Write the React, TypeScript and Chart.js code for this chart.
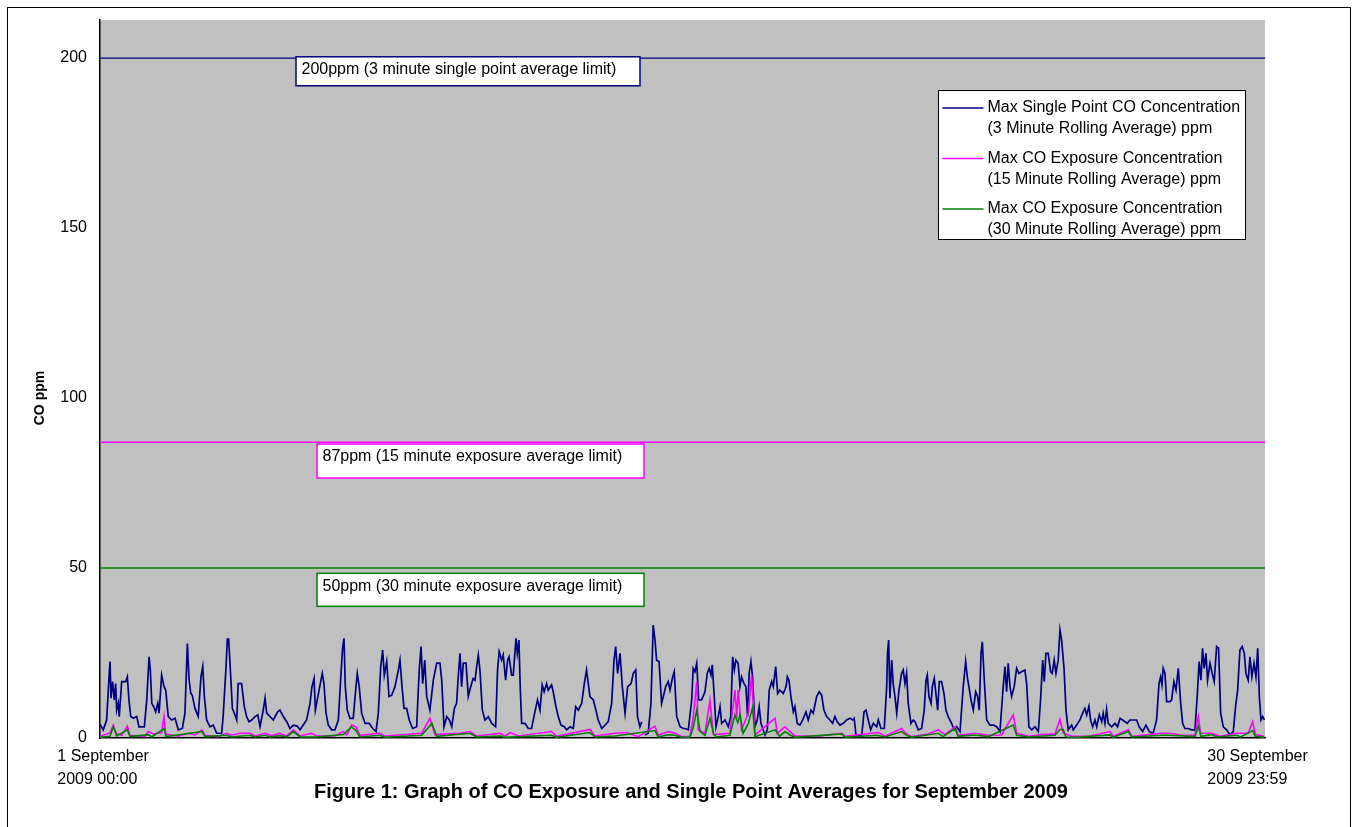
import React, { useEffect, useRef } from "react";
import { Chart, registerables } from "chart.js";

Chart.register(...registerables);

const FONT = '"Liberation Sans", Arial, Helvetica, sans-serif';

// ---------- data ----------
const seriesLegend: string[][] = [
  ["Max Single Point CO Concentration", "(3 Minute Rolling Average) ppm"],
  ["Max CO Exposure Concentration", "(15 Minute Rolling Average) ppm"],
  ["Max CO Exposure Concentration", "(30 Minute Rolling Average) ppm"],
];
const seriesColors = ["#000080", "#FF00FF", "#008000"];

const limitPpm = [200, 87, 50];
const limitLabels = [
  "200ppm (3 minute single point average limit)",
  "87ppm (15 minute exposure average limit)",
  "50ppm (30 minute exposure average limit)",
];
const yTicks = [0, 50, 100, 150, 200];
const periodHours = [0, 720];
const xStartLabel = ["1 September", "2009 00:00"];
const xEndLabel = ["30 September", "2009 23:59"];
const yTitle = "CO ppm";
const figureTitle = "Figure 1: Graph of CO Exposure and Single Point Averages for September 2009";

// [hour since 1 Sep 00:00, ppm]
const singlePoint: [number, number | null][] = [
  [0,4.1],[2.0,2.4],[4.1,5.3],[5.6,18],[6.2,22.5],[6.8,11.7],[7.8,16.6],[8.8,11.2],[9.7,16],[10.3,8.2],[11.3,10.2],[11.9,6.3],[13.4,16.6],[15.9,16.6],[16.9,18],[17.9,11.2],[19.0,6.3],[20.6,5.8],[22.7,6.3],[24.1,3.3],[27.4,3.3],[28.9,11.2],[30.3,23.9],[31.1,20],[32.0,10.2],[33.2,9.2],[34.4,7.7],[35.7,10.2],[36.5,7.3],[38.1,18.5],[39.6,15.1],[40.6,14.1],[42.2,6.3],[44.3,5.3],[46.4,5.8],[48.4,2.4],[50.9,2.8],[52.5,7.3],[54.0,27.8],[55.0,17.5],[56.1,13.1],[57.0,12.6],[58.7,8.7],[60.7,6.3],[62.4,18],[63.5,21],[64.5,12.2],[65.9,5.3],[68.0,3.3],[70.0,3.8],[72.1,1.4],[75.2,1.4],[76.1,6.3],[77.9,21],[78.7,29.1],[79.5,29.1],[80.8,18],[81.8,8.7],[83.0,7.3],[84.5,5.3],[85.4,16],[87.5,16],[89.2,9.2],[90.6,6.3],[92.1,4.8],[93.8,5.3],[95.8,6.3],[97.5,6.8],[98.9,3.3],[100.9,8.2],[102.0,11.7],[103.0,7.3],[105.1,6.3],[107.1,5.3],[109.8,7.7],[111.2,8.2],[113.3,6.3],[115.4,4.8],[117.4,2.8],[119.5,3.8],[121.9,3.5],[123.6,2.4],[125.6,3.8],[127.7,5.3],[129.8,10.2],[131.0,15.1],[132.3,17.5],[133.1,8.2],[134.3,11.2],[136.0,15.6],[137.4,19],[138.4,16],[139.7,7.3],[141.1,3.8],[143.2,2.4],[145.2,2.4],[147.3,5.3],[148.7,17],[149.9,26.4],[150.8,29.3],[151.6,15.1],[152.8,8.2],[154.5,5.8],[156.5,5.8],[158.2,15.1],[159.0,19],[160.2,15.1],[161.7,7.3],[163.8,4.3],[166.4,4.3],[168.5,2.8],[170.6,1.9],[172.0,7.3],[173.5,21],[174.7,25.9],[175.7,18.5],[177.2,22.5],[178.6,12.2],[180.3,12.6],[182.3,15.1],[184.4,20],[185.4,22.9],[186.5,16],[187.9,8.7],[189.5,8.7],[191.1,5.3],[193.2,2.8],[195.7,3.3],[197.3,20],[198.4,26.9],[199.4,16],[200.7,22.9],[201.9,12.2],[203.9,8.2],[206.0,17],[208.1,22],[210.1,22],[211.2,17],[212.6,3.3],[214.3,6.3],[215.9,5.3],[217.4,3.3],[219.0,8.7],[220.4,10.2],[221.4,18],[222.5,24.9],[223.5,15.1],[224.5,22],[226.2,22],[227.6,12.2],[229.1,15.1],[230.6,17.5],[231.8,17],[232.8,21],[233.8,24.4],[234.8,20],[236.3,8.2],[237.9,5.3],[240.0,6.3],[242.1,4.3],[244.5,3.3],[245.7,20],[246.7,25.4],[248.2,22.9],[249.2,24.4],[250.7,17],[251.9,22.9],[252.8,23.9],[254.4,18.5],[255.4,18.5],[257.1,29.3],[257.9,24.9],[258.9,28.8],[259.7,15.1],[260.6,4.3],[262.7,4.3],[264.7,2.8],[266.7,2.8],[268.8,7.7],[270.4,11.2],[271.9,8.2],[273.3,15.6],[274.5,13.6],[276.0,16],[277.0,14.1],[279.1,15.6],[280.1,13.6],[281.8,9.2],[283.2,6.3],[284.9,3.8],[286.9,3.3],[288.4,2.4],[290.5,3.3],[292.5,2.8],[294.0,9.2],[295.6,8.2],[297.7,10.2],[299.3,16],[300.7,20],[302.8,12.2],[304.9,11.2],[306.5,8.2],[307.9,5.3],[310.1,2.8],[312.1,3.8],[314.1,4.8],[316.2,10.2],[317.7,22.9],[318.7,26.9],[319.9,19],[321.4,24.9],[322.8,15.1],[324.5,7.3],[326.1,15.1],[328.2,16],[329.6,19],[331.1,20],[332.2,6.3],[333.7,3.3],[334.8,4.8],[335.8,null],[336.8,0.9],[338.8,1.4],[340.5,10.2],[341.9,33.2],[343.0,28.8],[344.0,22.9],[345.5,22.5],[347.1,10.2],[348.6,13.1],[349.6,15.1],[351.2,16.6],[352.3,14.1],[353.7,17.5],[354.9,19.5],[356.4,6.3],[358.5,3.3],[360.5,2.8],[361.5,2.8],[363.6,2.4],[365.7,11.2],[366.6,20.5],[367.7,19.5],[368.8,22],[370.0,11.2],[371.8,11.2],[373.9,13.6],[375.3,19],[376.5,20.5],[377.6,18.5],[378.4,21.5],[379.5,13.1],[380.7,3.3],[382.1,6.3],[383.2,9.2],[384.2,4.3],[386.3,5.3],[388.3,3.3],[389.8,6.3],[391.0,23.9],[392.0,20],[393.0,22.9],[394.4,22],[395.5,15.1],[396.5,18],[398.0,16],[399.2,15.1],[400.2,6.3],[401.2,19],[402.3,22.5],[403.3,18],[404.8,3.3],[406.2,5.3],[407.4,9.2],[408.5,4.3],[411.0,0.9],[412.4,2.4],[413.6,14.1],[415.1,16.6],[416.1,15.1],[417.6,21],[418.8,13.1],[420.2,14.1],[422.3,13.1],[424.0,15.1],[424.8,18],[425.8,17],[427.0,12.2],[428.5,7.7],[429.5,9.2],[430.9,4.3],[432.6,3.8],[434.3,5.3],[436.3,7.7],[437.7,5.3],[439.4,8.2],[440.8,7.3],[442.9,12.2],[444.5,13.6],[446.0,12.6],[447.4,8.2],[449.1,6.3],[451.1,5.3],[452.8,4.3],[454.2,6.3],[455.6,4.8],[457.3,3.8],[459.4,4.3],[461.4,5.3],[463.5,5.8],[465.2,5.3],[466.1,5.8],[467.2,0.9],[468.6,0.9],[470.7,0.4],[472.2,7.7],[473.4,8.2],[474.8,5.3],[476.3,2.4],[477.9,4.3],[480.0,3.3],[481.0,5.3],[482.7,2.8],[484.7,2.8],[486.2,15.1],[486.7,24.9],[487.4,28.8],[488.2,11.7],[489.3,22.9],[490.2,16],[491.3,12.2],[492.4,7.3],[493.8,14.1],[495.4,19],[496.4,20],[497.5,16],[498.5,19],[499.5,10.2],[501.2,4.3],[502.6,5.3],[503.7,4.8],[505.7,2.4],[507.8,2.8],[509.4,8.2],[510.5,17],[511.3,18.5],[512.3,12.2],[513.6,10.2],[514.4,15.1],[515.6,17.5],[516.6,13.1],[517.7,8.2],[518.7,16.6],[520.1,16.6],[521.6,13.1],[522.8,8.2],[524.2,6.3],[526.3,4.3],[527.9,2.4],[529.4,3.3],[531.5,1.9],[533.5,15.1],[535.0,22.5],[536.0,18],[537.0,15.1],[538.3,11.2],[539.7,8.2],[541.2,13.6],[542.4,12.2],[543.4,8.2],[544.5,24.9],[545.3,28.3],[546.5,17],[548.0,5.3],[550.0,3.8],[552.1,3.8],[554.2,3.3],[556.2,1.9],[558.2,15.1],[559.3,21],[560.3,13.6],[561.3,22],[562.4,15.1],[563.4,12.2],[565.0,15.1],[566.5,20.5],[567.9,19],[569.6,19.5],[571.6,20],[572.7,16],[574.1,3.3],[575.8,2.4],[577.8,3.3],[579.9,1.9],[581.3,11.2],[582.6,22.9],[583.6,16.6],[584.6,24.9],[586.0,24.9],[587.5,19.5],[588.5,19],[589.7,22.9],[590.8,19],[592.2,22.9],[593.3,31.8],[594.3,28.8],[595.8,20.5],[597.0,8.2],[598.4,2.4],[600.5,3.8],[601.5,2.4],[603.6,3.8],[605.6,5.3],[607.3,7.3],[608.7,8.7],[609.8,6.8],[611.2,9.4],[612.2,5.3],[613.5,3.3],[614.9,5.3],[616.0,3.3],[617.6,6.8],[619.1,4.8],[620.0,7.3],[621.1,4.3],[622.1,8.4],[623.1,4.3],[625.2,3.3],[627.3,4.3],[628.9,3.3],[630.4,5.8],[632.0,5.3],[633.5,4.8],[634.9,4.3],[636.5,5.3],[638.6,5.3],[640.7,5.3],[642.2,3.3],[644.4,1.9],[646.4,3.8],[648.5,1.9],[650.9,1.4],[653.0,5.3],[654.5,16],[655.5,18],[656.3,15.6],[657.1,20.5],[658.2,19],[659.2,10.7],[661.3,10.7],[662.3,11.2],[663.7,16.6],[665.0,14.1],[666.4,20.5],[667.9,10.2],[669.1,4.3],[670.5,2.8],[672.6,2.8],[674.6,2.4],[676.7,2.4],[678.1,12.2],[679.3,22.5],[680.4,17],[681.4,26.4],[682.4,20.5],[683.5,24.9],[684.5,17],[686.0,22],[687.6,18.5],[688.6,16.6],[690.1,26.9],[691.3,26.4],[692.6,7.3],[694.2,3.3],[696.3,2.4],[698.3,0.9],[700.4,1.9],[701.8,9.2],[703.1,14.1],[704.5,25.9],[705.9,26.9],[707.2,24.9],[708.2,19],[709.6,17],[710.7,23.9],[711.9,18],[713.2,22],[714.4,18],[715.5,26.4],[716.5,12.2],[717.5,5.3],[718.6,6.3],[719.6,5.3]
];

const exposure15: [number, number][] = [
  [0,0.5],[6.2,1.5],[8.2,3.8],[10.3,1.2],[13.4,0.8],[16.9,3.5],[18.5,0.8],[27.8,0.5],[29.9,1.9],[32.9,1.2],[38.1,1.5],[39.6,6.3],[40.6,1.2],[48.4,0.5],[54.6,1.4],[58.7,0.9],[63.0,2.4],[64.9,0.8],[73.1,0.4],[78.3,1.4],[81.4,0.8],[86.5,1.4],[92.7,1.4],[95.8,0.6],[102.0,1.4],[106.1,0.7],[111.2,1.4],[115.4,0.6],[119.5,2.4],[123.6,0.6],[130.8,1.4],[133.9,0.6],[145.2,0.6],[150.4,1.9],[152.5,0.9],[155.5,3.8],[158.2,3.3],[160.7,0.8],[173.0,1.4],[176.1,0.6],[198.8,1.4],[203.9,5.8],[207.0,1.0],[222.5,1.4],[228.7,1.9],[232.8,0.6],[247.2,1.4],[250.3,0.6],[253.4,1.6],[258.5,0.6],[279.1,1.9],[282.2,0.5],[302.8,2.5],[305.9,0.6],[318.3,1.4],[325.5,1.6],[332.7,0.4],[343.0,3.5],[345.0,0.8],[351.2,1.9],[355.4,1.4],[359.5,0.4],[364.6,0.5],[366.6,6],[368.8,16.6],[369.7,2.4],[373.9,1.4],[377.0,11.2],[379.1,1.0],[389.3,1.4],[392.4,14.1],[393.5,6],[394.4,14.1],[396.5,2.4],[400.7,7.3],[402.7,18.5],[404.8,0.9],[417.2,5.8],[418.6,1.4],[423.3,3.3],[426.4,1.9],[429.5,0.6],[445.0,0.6],[458.4,1.4],[460.4,0.5],[476.9,1.4],[481.0,1.6],[485.1,0.6],[488.2,1.2],[495.4,2.8],[498.5,1.2],[501.6,0.4],[511.9,1.2],[518.1,2.4],[522.2,1.0],[528.4,3.3],[530.4,0.8],[540.8,1.4],[549.0,0.8],[557.2,0.9],[564.4,6.8],[566.5,1.4],[573.7,0.5],[581.9,1.0],[590.2,1.2],[593.3,5.5],[595.3,1.4],[600.5,0.5],[603.6,0.5],[611.8,0.6],[624.2,1.9],[626.2,0.5],[635.5,2.4],[637.6,0.5],[655.9,1.4],[661.3,1.4],[667.5,0.9],[676.7,0.8],[678.8,6.3],[680.2,1.4],[687.0,1.4],[692.2,0.5],[702.5,1.4],[709.6,1.4],[712.4,4.8],[714.0,1.0],[719.6,0.5]
];

const exposure30: [number, number][] = [
  [0,0.2],[6.2,0.5],[8.2,3.3],[10.3,0.6],[16.9,2.4],[18.5,0.4],[29.9,1.0],[32.0,0.3],[39.6,2.8],[40.8,0.4],[63.0,1.9],[64.9,0.4],[78.3,0.8],[81.4,0.3],[92.7,0.8],[95.8,0.3],[102.0,0.8],[105.0,0.3],[111.2,0.7],[115.4,0.3],[119.5,1.9],[123.6,0.3],[133.9,0.3],[150.4,1.0],[155.5,3.3],[158.2,2.2],[160.7,0.3],[173.0,0.8],[176.0,0.2],[198.8,0.8],[205.1,4.3],[208.1,0.5],[228.7,1.4],[232.8,0.3],[247.2,0.6],[250.0,0.2],[279.1,0.8],[282.0,0.2],[302.8,1.6],[305.9,0.3],[318.3,0.6],[343.0,2.2],[345.0,0.3],[351.2,1.0],[355.4,0.8],[359.5,0.2],[364.6,0.2],[366.6,3],[368.8,8.2],[370.8,2.0],[373.9,0.8],[377.0,5.8],[379.1,1.4],[380.7,0.3],[389.3,0.8],[392.4,6.8],[394.2,4.5],[395.5,6.8],[397.5,1.4],[400.7,4.3],[403.3,9],[404.8,0.4],[417.2,2.4],[420.0,0.5],[423.3,1.9],[426.4,0.9],[429.5,0.2],[458.4,1.2],[460.4,0.2],[480.0,0.8],[485.1,0.3],[495.4,1.9],[498.5,0.8],[501.6,0.2],[518.1,1.4],[521.0,0.4],[528.4,2.8],[530.4,0.5],[540.8,0.9],[549.0,0.4],[564.4,3.8],[566.5,0.8],[573.7,0.3],[590.2,0.8],[593.3,2.5],[595.3,2.5],[597.0,0.3],[603.6,0.2],[624.2,0.9],[626.2,0.2],[635.5,1.9],[637.6,0.3],[655.9,0.8],[661.3,0.8],[676.7,0.4],[678.8,3.5],[680.4,0.5],[687.0,1.0],[690.0,0.3],[702.5,0.8],[705.0,0.3],[712.4,2.2],[714.0,0.5],[719.6,0.2]
];

const toPoints = (arr: [number, number | null][]) => arr.map(([h, v]) => ({ x: h, y: v }));

const decorPlugin = {
  id: "decor",
  beforeDraw(chart: any) {
    const { ctx, chartArea: a } = chart;
    ctx.save();
    ctx.fillStyle = "#C0C0C0";
    ctx.fillRect(a.left, a.top, a.right - a.left, a.bottom - a.top);
    ctx.restore();
  },
  afterDraw(chart: any) {
    const { ctx, chartArea: a, scales } = chart;
    const ys = scales.y;
    const xs = scales.x;
    ctx.save();
    ctx.font = `16px ${FONT}`;
    ctx.textBaseline = "middle";
    ctx.textAlign = "left";

    // limit label boxes
    const boxes = [
      { dx: 196, dy: -1.3, w: 344, h: 29 },
      { dx: 217, dy: 1.8, w: 327, h: 34 },
      { dx: 217, dy: 5.3, w: 327, h: 33 },
    ];
    limitPpm.forEach((v, i) => {
      const b = boxes[i];
      const top = ys.getPixelForValue(v) + b.dy;
      const left = a.left + b.dx;
      ctx.fillStyle = "#FFFFFF";
      ctx.fillRect(left, top, b.w, b.h);
      ctx.strokeStyle = seriesColors[i];
      ctx.lineWidth = 1.5;
      ctx.strokeRect(left, top, b.w, b.h);
      ctx.fillStyle = "#000";
      ctx.fillText(limitLabels[i], left + 5.5, top + 13);
    });

    // legend
    const lx = 930.5, ly = 82.5, lw = 307, lh = 149;
    ctx.fillStyle = "#FFFFFF";
    ctx.fillRect(lx, ly, lw, lh);
    ctx.strokeStyle = "#000";
    ctx.lineWidth = 1;
    ctx.strokeRect(lx, ly, lw, lh);
    seriesLegend.forEach((lines, i) => {
      const y1 = ly + 17.5 + i * 50.5;
      ctx.strokeStyle = seriesColors[i];
      ctx.lineWidth = 1.5;
      ctx.beginPath();
      ctx.moveTo(lx + 4, y1);
      ctx.lineTo(lx + 45, y1);
      ctx.stroke();
      ctx.fillStyle = "#000";
      lines.forEach((t, j) => ctx.fillText(t, lx + 49, y1 + j * 20.8));
    });

    // x extremity labels
    const x0 = xs.getPixelForValue(periodHours[0]);
    const x1 = xs.getPixelForValue(periodHours[1]);
    xStartLabel.forEach((t, j) => ctx.fillText(t, x0 - 42.7, a.bottom + 18.7 + j * 22.6));
    xEndLabel.forEach((t, j) => ctx.fillText(t, x1 - 57.7, a.bottom + 18.7 + j * 22.6));

    // y title
    ctx.save();
    ctx.translate(32, ys.getPixelForValue(100));
    ctx.rotate(-Math.PI / 2);
    ctx.textAlign = "center";
    ctx.font = `bold 14px ${FONT}`;
    ctx.fillText(yTitle, 0, 0);
    ctx.restore();

    // figure title
    ctx.textAlign = "center";
    ctx.font = `bold 20px ${FONT}`;
    ctx.fillText(figureTitle, 683, a.bottom + 54);
    ctx.restore();
  },
};

export default function App() {
  const ref = useRef<HTMLCanvasElement | null>(null);
  useEffect(() => {
    if (!ref.current) return;
    const lineBase = { pointRadius: 0, tension: 0, fill: false, spanGaps: false };
    const chart = new Chart(ref.current, {
      type: "line",
      data: {
        datasets: [
          { ...lineBase, label: seriesLegend[2].join(" "), data: toPoints(exposure30), borderColor: seriesColors[2], borderWidth: 1.6, order: 0 },
          { ...lineBase, label: seriesLegend[1].join(" "), data: toPoints(exposure15), borderColor: seriesColors[1], borderWidth: 1.6, order: 1 },
          { ...lineBase, label: seriesLegend[0].join(" "), data: toPoints(singlePoint), borderColor: seriesColors[0], borderWidth: 1.7, order: 2 },
          ...limitPpm.map((v, i) => ({
            ...lineBase,
            label: limitLabels[i],
            data: periodHours.map((h) => ({ x: h, y: v })),
            borderColor: seriesColors[i],
            borderWidth: 1.3,
            order: 3,
          })),
        ],
      } as any,
      options: {
        responsive: false,
        animation: false,
        layout: { padding: { left: 0, right: 85, top: 12, bottom: 89 } },
        plugins: { legend: { display: false }, tooltip: { enabled: false }, title: { display: false } },
        scales: {
          x: {
            type: "linear",
            min: periodHours[0],
            max: periodHours[1],
            grid: { display: false, drawTicks: false },
            border: { display: true, color: "#000", width: 1.5 },
            ticks: { display: false },
            afterFit: (s: any) => { s.height = 0; s.paddingLeft = 0; s.paddingRight = 0; },
          },
          y: {
            type: "linear",
            min: 0,
            max: 211.2,
            grid: { display: false, drawTicks: false },
            border: { display: true, color: "#000", width: 1.5 },
            ticks: { font: { family: FONT, size: 16 }, color: "#000", padding: 13 },
            afterBuildTicks: (s: any) => { s.ticks = yTicks.map((v) => ({ value: v })); },
            afterFit: (s: any) => { s.width = 92; s.paddingTop = 0; s.paddingBottom = 0; },
          },
        },
      } as any,
      plugins: [decorPlugin],
    });
    return () => chart.destroy();
  }, []);

  return (
    <div
      style={{
        position: "fixed",
        left: 7,
        top: 7,
        width: 1344,
        height: 900,
        boxSizing: "border-box",
        border: "1px solid #000",
        background: "#fff",
        overflow: "hidden",
      }}
    >
      <canvas ref={ref} width={1342} height={819} style={{ display: "block", width: 1342, height: 819 }} />
    </div>
  );
}
